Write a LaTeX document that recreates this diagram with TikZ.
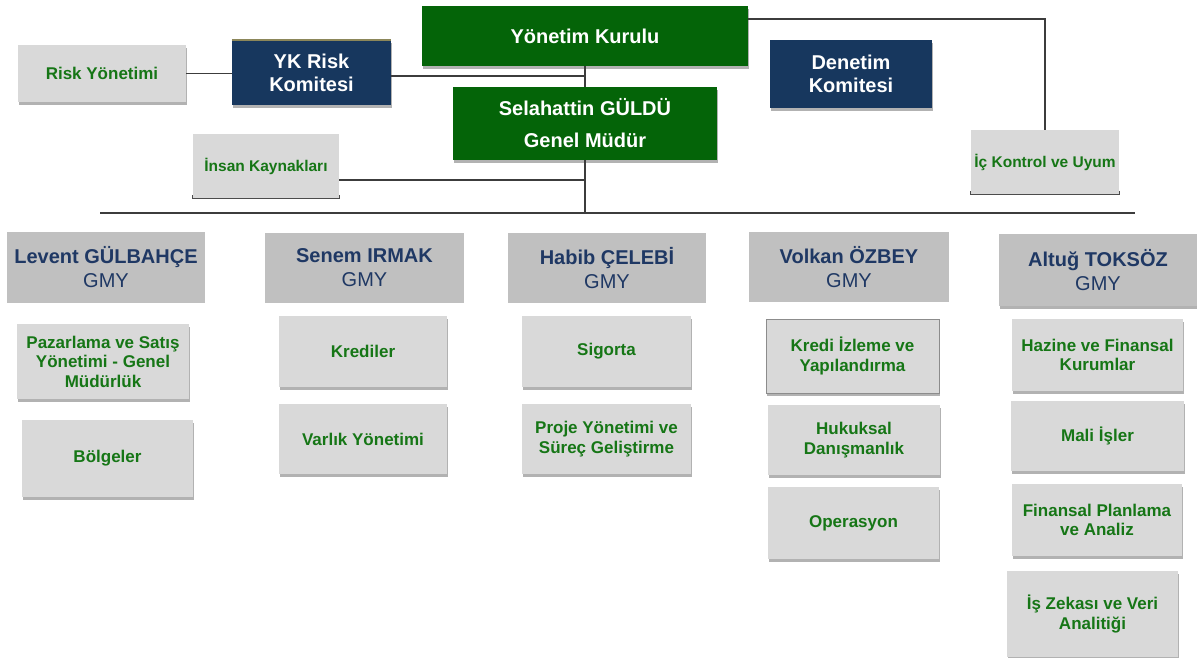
\documentclass[tikz,border=0pt]{standalone}
\usepackage{fontspec}
\setmainfont{Liberation Sans}
\usetikzlibrary{shadows,calc}
\definecolor{kgreen}{RGB}{4,100,8}
\definecolor{knavy}{RGB}{23,55,94}
\definecolor{lgray}{RGB}{217,217,217}
\definecolor{hgray}{RGB}{192,192,192}
\definecolor{tgreen}{RGB}{22,118,22}
\definecolor{tnavy}{RGB}{31,56,100}
\definecolor{lineclr}{RGB}{60,60,60}
\definecolor{oliveline}{RGB}{140,135,90}
\tikzset{
  box/.style={rectangle, inner sep=2pt, align=center, anchor=center},
  softshadow/.style={drop shadow={shadow xshift=0.8pt, shadow yshift=-2.5pt, fill=black, opacity=0.3}},
  greenbox/.style={box, fill=kgreen, text=white, font=\bfseries\fontsize{20}{24}\selectfont, softshadow},
  navybox/.style={box, fill=knavy, text=white, font=\bfseries\fontsize{20}{23}\selectfont, softshadow},
  unitbox/.style={box, fill=lgray, text=tgreen, font=\bfseries\fontsize{17}{19.5}\selectfont, softshadow},
  sidebox/.style={box, fill=lgray, text=tgreen, font=\bfseries\fontsize{15.5}{18}\selectfont},
  headbox/.style={box, fill=hgray, text=tnavy, font=\fontsize{20}{24}\selectfont},
  link/.style={draw=lineclr, line width=1.5pt},
  bracket/.style={draw=black!70, line width=1.3pt},
}
\begin{document}
\begin{tikzpicture}[x=1pt,y=-1pt]
\useasboundingbox (0,0) rectangle (1197,657);

% top level
\node[greenbox, minimum width=326pt, minimum height=60pt] (yk) at (585,36) {Yönetim Kurulu};
\node[navybox, minimum width=159pt, minimum height=65pt] (ykrisk) at (311.5,72.5) {YK Risk\\Komitesi};
\draw[draw=oliveline, line width=2pt] (ykrisk.north west) -- (ykrisk.north east);
\node[unitbox, minimum width=168pt, minimum height=57pt] (risk) at (102,73.5) {Risk Yönetimi};
\node[greenbox, minimum width=264pt, minimum height=73pt] (gm) at (585,123.5) {Selahattin GÜLDÜ\\[8pt]Genel Müdür};
\node[navybox, minimum width=162pt, minimum height=68pt] (den) at (851,74) {Denetim\\Komitesi};
\node[sidebox, minimum width=146pt, minimum height=64pt] (ins) at (266,166) {İnsan Kaynakları};
\draw[bracket] ([yshift=3pt]ins.south west) -- (ins.south west) -- (ins.south east) -- ([yshift=3pt]ins.south east);
\node[sidebox, minimum width=148pt, minimum height=64pt] (ic) at (1045,162) {İç Kontrol ve Uyum};
\draw[bracket] ([yshift=3pt]ic.south west) -- (ic.south west) -- (ic.south east) -- ([yshift=3pt]ic.south east);

\coordinate (barL) at (100,213);
\coordinate (barR) at (1135,213);

% connectors
\draw[link] (risk.east) -- (risk.east -| ykrisk.west);
\draw[link] ([yshift=-3.5pt]ykrisk.east) -- ([yshift=-3.5pt]ykrisk.east -| gm.north);
\draw[link] (yk.south) -- (gm.north);
\draw[link] ([yshift=17pt]yk.east) -- ([yshift=17pt]yk.east -| ic.north) -- (ic.north);
\draw[link] (gm.south) -- (gm.south |- barL);
\draw[link] ([yshift=-14pt]ins.east) -- ([yshift=-14pt]ins.east -| gm.south);
\draw[link] (barL) -- (barR);

% GMY headers
\node[headbox, minimum width=198pt, minimum height=71pt] (lev) at (106,267.5) {\textbf{Levent GÜLBAHÇE}\\GMY};
\node[headbox, minimum width=199pt, minimum height=70pt] (sen) at (364.5,268) {\textbf{Senem IRMAK}\\GMY};
\node[headbox, minimum width=198pt, minimum height=70pt] (hab) at (607,268) {\textbf{Habib ÇELEBİ}\\GMY};
\node[headbox, minimum width=200pt, minimum height=70pt] (vol) at (849,267) {\textbf{Volkan ÖZBEY}\\GMY};
\node[headbox, softshadow, minimum width=198pt, minimum height=72pt] (alt) at (1098,270) {\textbf{Altuğ TOKSÖZ}\\GMY};

% units
\node[unitbox, minimum width=172pt, minimum height=75pt] (paz) at (103,361.5) {Pazarlama ve Satış\\Yönetimi - Genel\\Müdürlük};
\node[unitbox, minimum width=171pt, minimum height=77pt] (bol) at (107.5,458.5) {Bölgeler};
\node[unitbox, drop shadow={opacity=0}, minimum width=168pt, minimum height=71pt] (kre) at (363,351.5) {Krediler};
\node[unitbox, drop shadow={opacity=0}, minimum width=168pt, minimum height=70pt] (var) at (363,439) {Varlık Yönetimi};
\node[unitbox, drop shadow={opacity=0}, minimum width=169pt, minimum height=71pt] (sig) at (606.5,351.5) {Sigorta};
\node[unitbox, drop shadow={opacity=0}, minimum width=169pt, minimum height=70pt] (pro) at (606.5,439) {Proje Yönetimi ve\\Süreç Geliştirme};
\node[unitbox, draw=black!45, line width=1pt, minimum width=173pt, minimum height=74pt] (kiz) at (852.5,356) {Kredi İzleme ve\\Yapılandırma};
\node[unitbox, minimum width=172pt, minimum height=70pt] (huk) at (854,440) {Hukuksal\\Danışmanlık};
\node[unitbox, minimum width=171pt, minimum height=72pt] (ope) at (853.5,523) {Operasyon};
\node[unitbox, minimum width=171pt, minimum height=72pt] (haz) at (1097.5,355) {Hazine ve Finansal\\Kurumlar};
\node[unitbox, minimum width=173pt, minimum height=70pt] (mal) at (1097.5,436) {Mali İşler};
\node[unitbox, minimum width=170pt, minimum height=72pt] (fin) at (1097,520) {Finansal Planlama\\ve Analiz};
\node[unitbox, minimum width=171pt, minimum height=86pt] (isz) at (1092.5,614) {İş Zekası ve Veri\\Analitiği};
\end{tikzpicture}
\end{document}
